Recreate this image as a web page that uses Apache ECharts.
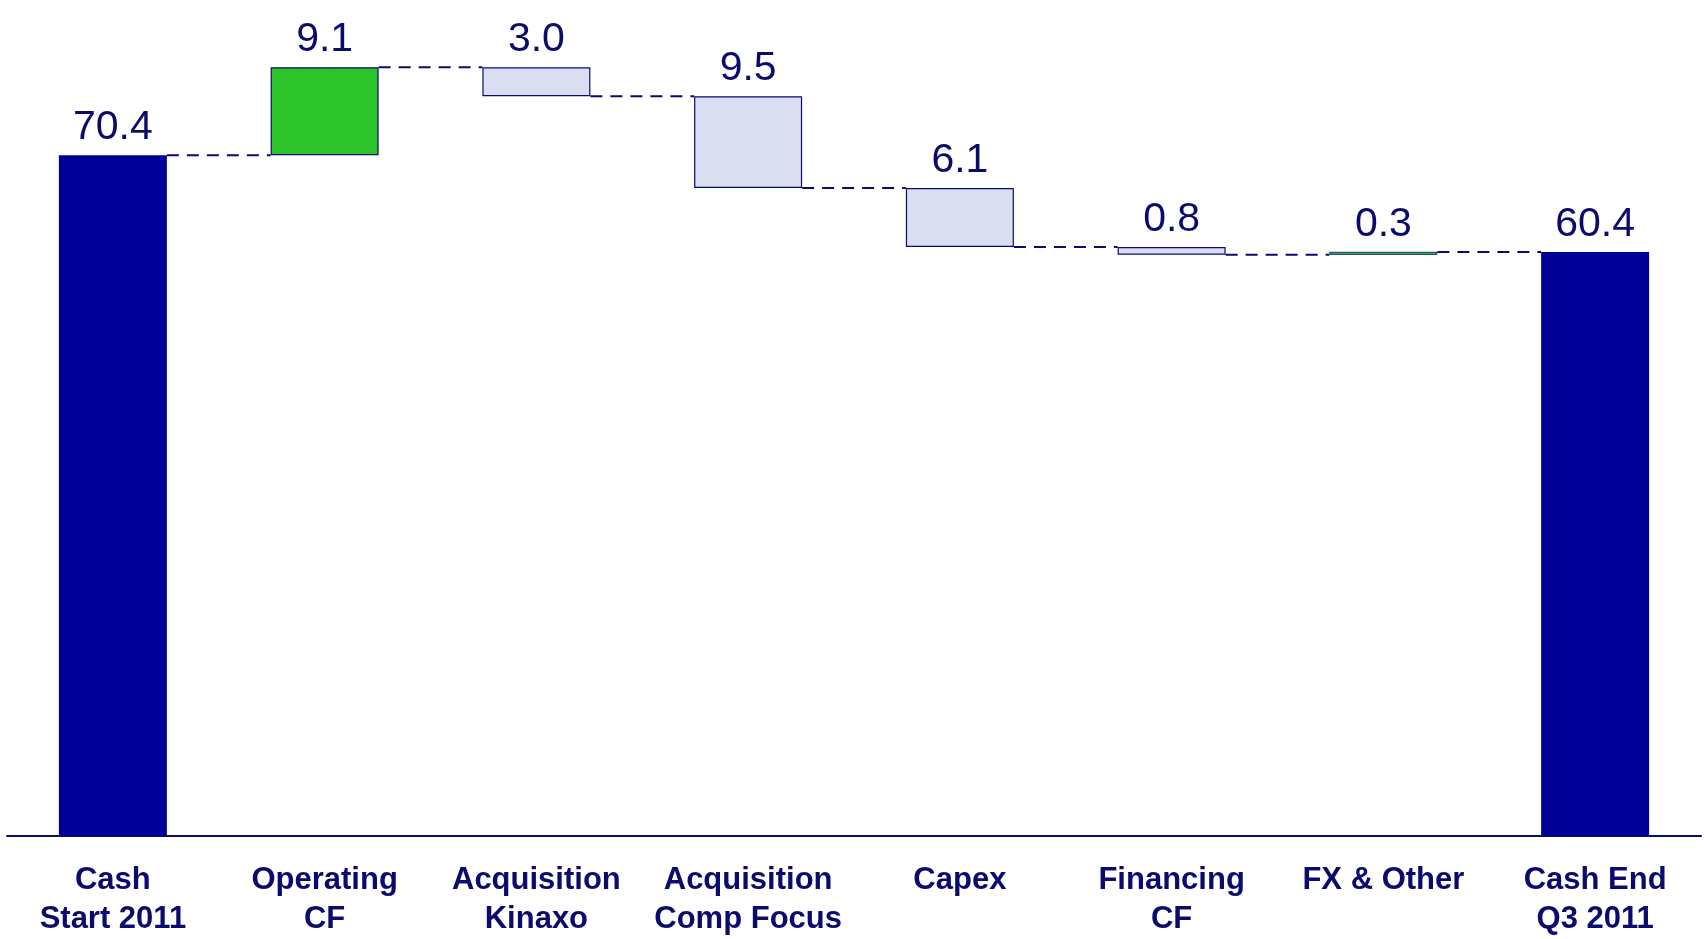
<!DOCTYPE html>
<html>
<head>
<meta charset="utf-8">
<script src="https://cdn.jsdelivr.net/npm/echarts@6/dist/echarts.min.js"></script>
<style>
  html,body{margin:0;padding:0;background:#fff;}
  #chart{width:1707px;height:939px;}
</style>
</head>
<body>
<div id="chart"></div>
<script>
// data
const categories = ['Cash\nStart 2011', 'Operating\nCF', 'Acquisition\nKinaxo', 'Acquisition\nComp Focus', 'Capex', 'Financing\nCF', 'FX & Other', 'Cash End\nQ3 2011']
const changes = [70.4, 9.1, -3.0, -9.5, -6.1, -0.8, 0.3, 60.4]
const kinds = ['total', 'up', 'down', 'down', 'down', 'down', 'up', 'total']

const navy = '#0b0b6e'
const colors = { total: '#000099', up: '#2bc42b', down: '#d9dff0' }

// base (invisible) + visible part of every bar, and the level after each step
let baseData = []
let barData = []
let levels = []
let running = 0
for (let i = 0; i < changes.length; i++) {
  const v = changes[i]
  if (kinds[i] == 'total') {
    baseData.push(0)
    barData.push(v)
    running = v
  } else if (v >= 0) {
    baseData.push(running)
    barData.push(v)
    running += v
  } else {
    running += v
    baseData.push(running)
    barData.push(-v)
  }
  levels.push([i, +running.toFixed(1)])
}
levels.pop() // no connector after the last bar

const barWidth = 108

const myChart = echarts.init(document.getElementById('chart'))
const option = {
  animation: false,
  grid: { left: 7, right: 6, top: 14, bottom: 101 },
  xAxis: {
    type: 'category',
    data: categories,
    axisLine: { show: true, lineStyle: { color: navy, width: 2 } },
    axisTick: { show: false },
    axisLabel: {
      interval: 0,
      margin: 25,
      color: navy,
      fontFamily: 'Liberation Sans, Arial, sans-serif',
      fontWeight: 'bold',
      fontSize: 31,
      lineHeight: 39
    }
  },
  yAxis: {
    type: 'value',
    min: 0,
    max: 85,
    show: false,
    splitLine: { show: false }
  },
  series: [
    {
      type: 'bar',
      stack: 'wf',
      barWidth: barWidth,
      itemStyle: { color: 'transparent' },
      emphasis: { disabled: true },
      data: baseData
    },
    {
      type: 'bar',
      stack: 'wf',
      barWidth: barWidth,
      emphasis: { disabled: true },
      data: barData.map((v, i) => ({
        value: v,
        itemStyle: {
          color: colors[kinds[i]],
          borderColor: kinds[i] == 'total' ? colors.total : navy,
          borderWidth: kinds[i] == 'total' ? 0 : (v < 0.5 ? 0.8 : 1.2)
        }
      })),
      label: {
        show: true,
        position: 'top',
        distance: 7,
        color: navy,
        fontFamily: 'Liberation Sans, Arial, sans-serif',
        fontSize: 41,
        formatter: (p) => Math.abs(changes[p.dataIndex]).toFixed(1)
      }
    },
    {
      // dashed connectors between bars
      type: 'custom',
      silent: true,
      data: levels,
      renderItem: function (params, api) {
        const i = api.value(0)
        const lv = api.value(1)
        const p0 = api.coord([i, lv])
        const p1 = api.coord([i + 1, lv])
        return {
          type: 'line',
          shape: { x1: p0[0] + barWidth / 2, y1: p0[1], x2: p1[0] - barWidth / 2, y2: p1[1] },
          style: { stroke: navy, lineWidth: 2, lineDash: [12, 8] }
        }
      }
    }
  ]
}
myChart.setOption(option)
</script>
</body>
</html>
